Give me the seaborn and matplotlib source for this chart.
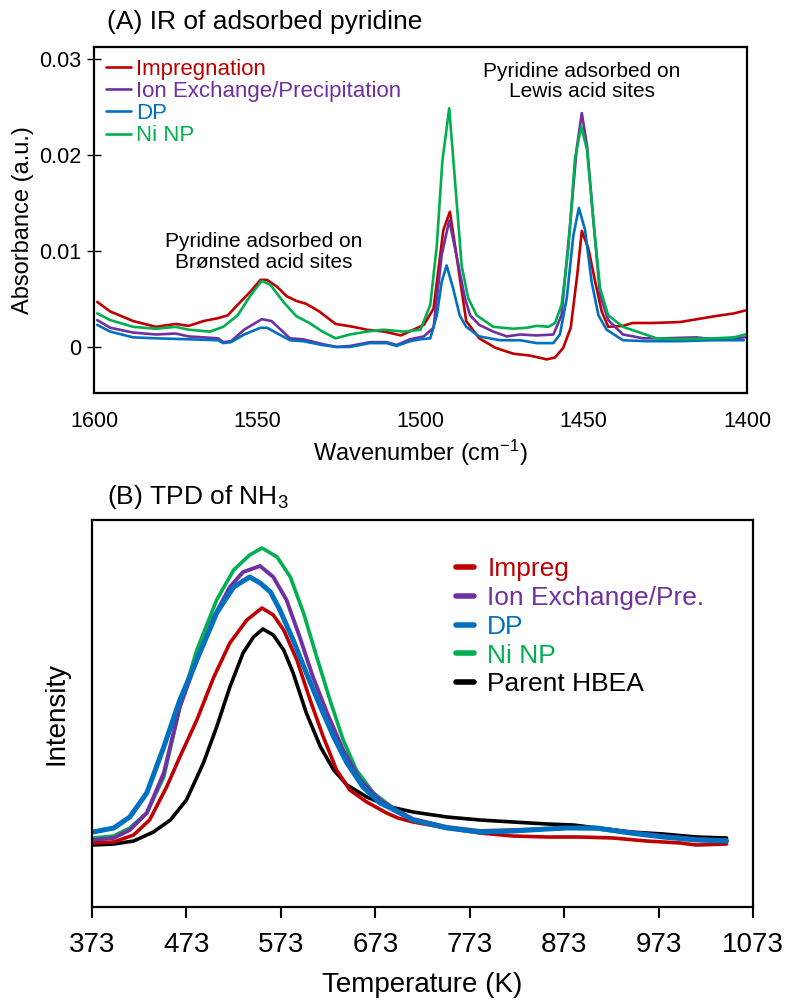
import matplotlib
matplotlib.use("Agg")
import matplotlib.pyplot as plt
import seaborn as sns

# ---- panel A: IR of adsorbed pyridine ----
wn_imp = [1599, 1595, 1588, 1581, 1575, 1571, 1566.5, 1562, 1559, 1556, 1552, 1549, 1547, 1544,
          1541, 1538, 1535, 1531, 1526, 1520.6, 1516.5, 1511, 1506, 1499, 1496, 1493, 1491,
          1489, 1486, 1482, 1477, 1471.6, 1466.5, 1461.3, 1458.8, 1456.3, 1454, 1452, 1450.6,
          1448.6, 1446.5, 1444.5, 1442.5, 1438, 1435, 1428.7, 1420.5, 1410, 1404, 1400.6]
ab_imp = [.0047, .0037, .0027, .0021, .0024, .0022, .0027, .0030, .0033, .0044, .0058, .0070, .0070, .0063,
          .0053, .0048, .0045, .0037, .0024, .0021, .0018, .0016, .0012, .0023, .0040, .0122, .0141,
          .0096, .0027, .0009, -.0001, -.0007, -.0009, -.0013, -.0011, -.0001, .0020, .0075, .0121,
          .0103, .0068, .0037, .0021, .0022, .0025, .0025, .0026, .0032, .0035, .0038]

wn_ion = [1599, 1595, 1588, 1581, 1575, 1571, 1562, 1560.4, 1558, 1554, 1548.6, 1545.6, 1540, 1536,
          1530, 1525.7, 1521.6, 1515.5, 1510.4, 1507.3, 1503.2, 1499, 1496, 1493.5, 1491.2, 1489,
          1486.4, 1484.8, 1482, 1477.7, 1473.6, 1469.5, 1464.4, 1459.3, 1456.8, 1454.2, 1452.2,
          1450.6, 1449, 1447, 1445, 1442.5, 1438, 1431.8, 1425.6, 1415.5, 1410.3, 1400.6]
ab_ion = [.0028, .0020, .0015, .0013, .0014, .0011, .0009, .0005, .0006, .0018, .0029, .0027, .0009, .0008,
          .0003, .0000, .0001, .0005, .0005, .0002, .0008, .0011, .0020, .0096, .0132, .0096,
          .0051, .0033, .0023, .0016, .0011, .0013, .0012, .0013, .0033, .0127, .0206,
          .0244, .0210, .0130, .0054, .0028, .0013, .0009, .0009, .0010, .0008, .0010]

wn_dp = [1599, 1595, 1588, 1581, 1571, 1562, 1560.4, 1558, 1554, 1549, 1547, 1540, 1536, 1530,
         1525.7, 1521.6, 1515.5, 1510.4, 1507.3, 1503.2, 1500, 1497, 1495, 1493.5, 1492, 1490,
         1488, 1486, 1482, 1475.6, 1469.5, 1464.4, 1459.3, 1457.3, 1455.2, 1453.2, 1451.5,
         1449.6, 1447.6, 1445.5, 1443, 1438, 1430.8, 1420.5, 1410.3, 1401]
ab_dp = [.0023, .0016, .0010, .0009, .0008, .0007, .0004, .0005, .0013, .0020, .0020, .0007, .0006, .0002,
         .0000, .0000, .0004, .0004, .0001, .0006, .0008, .0009, .0033, .0068, .0085, .0061,
         .0033, .0021, .0011, .0007, .0007, .0004, .0004, .0013, .0051, .0116, .0145,
         .0122, .0068, .0033, .0018, .0007, .0006, .0006, .0007, .0007]

wn_ni = [1599, 1595, 1588, 1581, 1575, 1571, 1564.5, 1560.4, 1556, 1552, 1548.6, 1546, 1542, 1538,
         1534, 1530, 1526, 1521.6, 1516.5, 1511.4, 1505, 1500, 1497, 1495, 1493.3, 1491.2, 1489.4,
         1487.4, 1485.4, 1482.8, 1477.7, 1471.6, 1467.5, 1464.4, 1460.8, 1458.8, 1456.8, 1454.7,
         1452.7, 1450.8, 1449, 1447, 1445, 1442.5, 1438, 1432.8, 1427.7, 1420.5, 1410.3, 1404, 1400.6]
ab_ni = [.0035, .0028, .0021, .0019, .0021, .0018, .0016, .0021, .0033, .0054, .0069, .0065, .0047, .0032,
         .0025, .0016, .0009, .0013, .0016, .0018, .0016, .0018, .0044, .0106, .0194, .0249, .0172,
         .0085, .0051, .0033, .0021, .0019, .0020, .0022, .0021, .0025, .0044, .0103,
         .0196, .0230, .0206, .0130, .0061, .0033, .0021, .0015, .0009, .0008, .0009, .0010, .0013]

# ---- panel B: TPD of NH3 (arbitrary intensity units) ----
t_imp = [374, 396, 417, 434, 452, 466, 484, 502, 519, 537, 553, 565, 576, 590, 604, 618, 632,
         646, 664, 685, 697, 713, 749, 784, 819, 855, 890, 925, 960, 996, 1013, 1045]
i_imp = [64, 65, 72, 87, 120, 150, 187, 230, 264, 287, 299, 292, 277, 247, 207, 170, 137,
         117, 105, 94, 89, 85, 79, 74, 71, 70, 70, 69, 66, 64, 62, 63]

t_ion = [374, 396, 413, 431, 449, 466, 484, 502, 519, 533, 551, 565, 579, 593, 607, 622, 639,
         657, 678, 695, 713, 749, 784, 819, 855, 876, 908, 943, 978, 1013, 1045]
i_ion = [67, 69, 77, 94, 134, 200, 247, 290, 320, 335, 341, 330, 307, 270, 230, 194, 157,
         127, 107, 97, 88, 80, 76, 77, 78, 79, 79, 75, 71, 68, 67]

t_dp = [374, 396, 413, 431, 449, 466, 484, 505, 523, 540, 551, 562, 572, 586, 600, 615, 629,
        643, 660, 678, 689, 713, 749, 784, 819, 855, 876, 908, 943, 978, 1013, 1045]
i_dp = [75, 79, 90, 114, 160, 207, 247, 294, 320, 330, 324, 315, 297, 267, 234, 200, 170,
        144, 120, 104, 99, 87, 79, 75, 76, 78, 79, 79, 74, 70, 67, 66]

t_ni = [374, 396, 413, 431, 449, 466, 484, 505, 523, 540, 553, 569, 583, 597, 611, 625, 639,
        653, 671, 692, 713, 749, 784, 819, 855, 876, 908, 943, 978, 1013, 1045]
i_ni = [69, 71, 79, 94, 130, 200, 257, 307, 337, 352, 359, 350, 330, 294, 250, 207, 167,
        137, 114, 99, 87, 79, 75, 76, 78, 79, 78, 74, 70, 67, 66]

t_par = [374, 396, 417, 438, 456, 473, 491, 505, 519, 533, 544, 554, 565, 576, 586, 600, 615,
         629, 643, 664, 689, 713, 749, 784, 819, 855, 883, 908, 943, 978, 1013, 1045]
i_par = [62, 63, 66, 75, 87, 107, 144, 180, 220, 254, 270, 278, 272, 257, 234, 194, 160,
         137, 122, 110, 100, 95, 90, 87, 85, 83, 82, 79, 75, 73, 70, 69]

temp_ticks = [373, 473, 573, 673, 773, 873, 973, 1073]

red, purple, blue, green = "#C00000", "#7030A0", "#0070C0", "#00B050"

sns.set_theme(style="white")
plt.rcParams["font.family"] = ["Liberation Sans", "DejaVu Sans"]
plt.rcParams["mathtext.fontset"] = "custom"
plt.rcParams["mathtext.rm"] = "Liberation Sans"
plt.rcParams["mathtext.it"] = "Liberation Sans"
for key in ["text.color", "axes.labelcolor", "xtick.color", "ytick.color"]:
    plt.rcParams[key] = "black"

fig = plt.figure(figsize=(7.87, 10.05), dpi=100)
ax_a = fig.add_axes([0.1194, 0.609, 0.8298, 0.3443])
ax_b = fig.add_axes([0.1169, 0.0975, 0.8399, 0.3851])

# panel A
series_a = [
    ("Impregnation", wn_imp, ab_imp, red),
    ("Ion Exchange/Precipitation", wn_ion, ab_ion, purple),
    ("DP", wn_dp, ab_dp, blue),
    ("Ni NP", wn_ni, ab_ni, green),
]
for name, x, y, c in series_a:
    sns.lineplot(x=x, y=y, ax=ax_a, color=c, lw=1.9, label=name, estimator=None)

ax_a.set_xlim(1600, 1400)
ax_a.set_ylim(-0.0048, 0.0313)
ax_a.set_xticks([1600, 1550, 1500, 1450, 1400])
ax_a.set_yticks([0, 0.01, 0.02, 0.03])
ax_a.set_yticklabels(["0", "0.01", "0.02", "0.03"])
ax_a.tick_params(axis="x", direction="out", length=5, width=0.8, color="#999999",
                 labelsize=15.5, pad=8)
ax_a.tick_params(axis="y", direction="inout", length=10, width=1, color="black",
                 labelsize=15.5, pad=4, left=True)
ax_a.set_xlabel("Wavenumber (cm$^{-1}$)", fontsize=17, labelpad=4)
ax_a.set_ylabel("Absorbance (a.u.)", fontsize=17, labelpad=4)
for s in ax_a.spines.values():
    s.set_color("black")
    s.set_linewidth(1.6)
ax_a.legend(loc="upper left", bbox_to_anchor=(-0.005, 1.01), frameon=False, fontsize=16,
            handlelength=1.1, handletextpad=0.25, labelspacing=0.05,
            labelcolor="linecolor", borderaxespad=0.3)
ax_a.text(1548, 0.0099, "Pyridine adsorbed on\nBrønsted acid sites", fontsize=15,
          ha="center", va="center", linespacing=1.1)
ax_a.text(1450.5, 0.0277, "Pyridine adsorbed on\nLewis acid sites", fontsize=15,
          ha="center", va="center", linespacing=1.1)

# panel B
series_b = [
    ("Parent HBEA", t_par, i_par, "black", 2.6),
    ("Impreg", t_imp, i_imp, red, 2.6),
    ("Ni NP", t_ni, i_ni, green, 2.6),
    ("Ion Exchange/Pre.", t_ion, i_ion, purple, 2.8),
    ("DP", t_dp, i_dp, blue, 3.6),
]
lines_b = {}
for name, x, y, c, lw in series_b:
    sns.lineplot(x=x, y=y, ax=ax_b, color=c, lw=lw, estimator=None)
    lines_b[name] = ax_b.get_lines()[-1]

ax_b.set_xlim(373, 1073)
ax_b.set_ylim(0, 387)
ax_b.set_xticks(temp_ticks)
ax_b.set_yticks([])
ax_b.tick_params(axis="x", direction="out", length=8, width=1.5, color="black",
                 labelsize=20, pad=10, bottom=True)
ax_b.set_xlabel("Temperature (K)", fontsize=20, labelpad=10)
ax_b.set_ylabel("Intensity", fontsize=20, labelpad=16)
for s in ax_b.spines.values():
    s.set_color("black")
    s.set_linewidth(1.6)
order = ["Impreg", "Ion Exchange/Pre.", "DP", "Ni NP", "Parent HBEA"]
leg_b = ax_b.legend([lines_b[k] for k in order], order, loc="upper left",
                    bbox_to_anchor=(0.514, 0.965), frameon=False, fontsize=19,
                    handlelength=0.7, handletextpad=0.5, labelspacing=0.18,
                    labelcolor="linecolor")
for h in leg_b.legend_handles:
    h.set_linewidth(4)

fig.text(107 / 787, 1 - 22 / 1005, "(A) IR of adsorbed pyridine", fontsize=19,
         ha="left", va="center")
fig.text(107 / 787, 1 - 497 / 1005, "(B) TPD of NH$_3$", fontsize=19,
         ha="left", va="center")

fig.savefig("out.png", dpi=100)
